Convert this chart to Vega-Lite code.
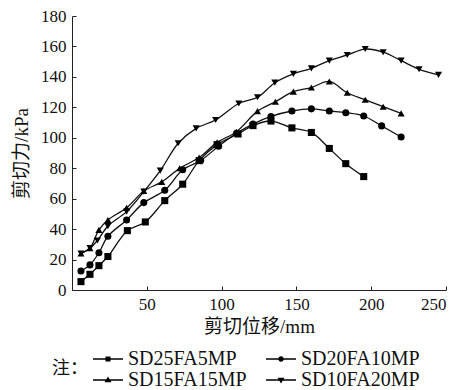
{
  "$schema": "https://vega.github.io/schema/vega-lite/v6.json",
  "autosize": {"type": "none"},
  "width": 374,
  "height": 274,
  "padding": {"left": 72, "top": 16, "right": 14, "bottom": 100},
  "background": "white",
  "config": {
    "view": {"stroke": null},
    "font": "Liberation Serif",
    "style": {
      "guide-label": {"font": "Liberation Serif"},
      "guide-title": {"font": "Liberation Serif, Noto Sans CJK SC"}
    },
    "axis": {
      "grid": false,
      "domainColor": "#222",
      "tickColor": "#222",
      "tickSize": -4,
      "labelColor": "#111",
      "titleColor": "#111"
    }
  },
  "data": {
    "values": [
      {"series": "SD25FA5MP", "x": 6, "y": 5.5},
      {"series": "SD25FA5MP", "x": 12, "y": 10.3},
      {"series": "SD25FA5MP", "x": 18, "y": 16},
      {"series": "SD25FA5MP", "x": 24, "y": 22},
      {"series": "SD25FA5MP", "x": 37, "y": 39},
      {"series": "SD25FA5MP", "x": 49, "y": 44.7},
      {"series": "SD25FA5MP", "x": 62, "y": 58.7},
      {"series": "SD25FA5MP", "x": 74, "y": 69.5},
      {"series": "SD25FA5MP", "x": 85, "y": 85},
      {"series": "SD25FA5MP", "x": 97, "y": 95.5},
      {"series": "SD25FA5MP", "x": 111, "y": 102.5},
      {"series": "SD25FA5MP", "x": 121, "y": 108},
      {"series": "SD25FA5MP", "x": 133, "y": 111},
      {"series": "SD25FA5MP", "x": 147, "y": 106.5},
      {"series": "SD25FA5MP", "x": 160, "y": 103.5},
      {"series": "SD25FA5MP", "x": 172, "y": 93},
      {"series": "SD25FA5MP", "x": 183, "y": 83},
      {"series": "SD25FA5MP", "x": 195, "y": 74.5},
      {"series": "SD20FA10MP", "x": 6, "y": 12.5},
      {"series": "SD20FA10MP", "x": 12, "y": 16.5},
      {"series": "SD20FA10MP", "x": 18, "y": 24.5},
      {"series": "SD20FA10MP", "x": 24, "y": 35.3},
      {"series": "SD20FA10MP", "x": 36.5, "y": 46},
      {"series": "SD20FA10MP", "x": 48, "y": 57.4},
      {"series": "SD20FA10MP", "x": 62, "y": 65.5},
      {"series": "SD20FA10MP", "x": 74, "y": 79},
      {"series": "SD20FA10MP", "x": 86, "y": 85},
      {"series": "SD20FA10MP", "x": 98, "y": 94.5},
      {"series": "SD20FA10MP", "x": 110, "y": 103},
      {"series": "SD20FA10MP", "x": 121, "y": 109},
      {"series": "SD20FA10MP", "x": 133, "y": 114},
      {"series": "SD20FA10MP", "x": 147, "y": 117.6},
      {"series": "SD20FA10MP", "x": 160, "y": 119},
      {"series": "SD20FA10MP", "x": 172, "y": 117.6},
      {"series": "SD20FA10MP", "x": 183, "y": 116.5},
      {"series": "SD20FA10MP", "x": 195, "y": 114.3},
      {"series": "SD20FA10MP", "x": 207, "y": 107.8},
      {"series": "SD20FA10MP", "x": 220, "y": 100.5},
      {"series": "SD15FA15MP", "x": 6, "y": 24},
      {"series": "SD15FA15MP", "x": 12, "y": 27.5},
      {"series": "SD15FA15MP", "x": 18, "y": 39.5},
      {"series": "SD15FA15MP", "x": 24, "y": 46},
      {"series": "SD15FA15MP", "x": 36.5, "y": 54},
      {"series": "SD15FA15MP", "x": 48, "y": 65},
      {"series": "SD15FA15MP", "x": 60, "y": 71},
      {"series": "SD15FA15MP", "x": 72, "y": 80},
      {"series": "SD15FA15MP", "x": 85, "y": 87},
      {"series": "SD15FA15MP", "x": 97, "y": 97},
      {"series": "SD15FA15MP", "x": 110, "y": 104},
      {"series": "SD15FA15MP", "x": 124, "y": 117.5},
      {"series": "SD15FA15MP", "x": 136, "y": 123.7},
      {"series": "SD15FA15MP", "x": 148, "y": 130.3},
      {"series": "SD15FA15MP", "x": 160, "y": 133},
      {"series": "SD15FA15MP", "x": 172, "y": 137},
      {"series": "SD15FA15MP", "x": 184, "y": 129.6},
      {"series": "SD15FA15MP", "x": 196, "y": 125},
      {"series": "SD15FA15MP", "x": 208, "y": 120.4},
      {"series": "SD15FA15MP", "x": 220, "y": 116},
      {"series": "SD10FA20MP", "x": 6, "y": 24},
      {"series": "SD10FA20MP", "x": 12, "y": 27.5},
      {"series": "SD10FA20MP", "x": 17, "y": 32.5},
      {"series": "SD10FA20MP", "x": 24, "y": 42},
      {"series": "SD10FA20MP", "x": 36.5, "y": 51.5},
      {"series": "SD10FA20MP", "x": 48, "y": 64.6},
      {"series": "SD10FA20MP", "x": 59, "y": 78.4},
      {"series": "SD10FA20MP", "x": 71, "y": 96.4},
      {"series": "SD10FA20MP", "x": 83, "y": 106.2},
      {"series": "SD10FA20MP", "x": 96, "y": 111.7},
      {"series": "SD10FA20MP", "x": 111.5, "y": 122.5},
      {"series": "SD10FA20MP", "x": 124, "y": 126.6},
      {"series": "SD10FA20MP", "x": 135.6, "y": 136.2},
      {"series": "SD10FA20MP", "x": 148, "y": 142},
      {"series": "SD10FA20MP", "x": 160, "y": 145.6},
      {"series": "SD10FA20MP", "x": 172, "y": 150.7},
      {"series": "SD10FA20MP", "x": 184, "y": 154.4},
      {"series": "SD10FA20MP", "x": 196, "y": 158.3},
      {"series": "SD10FA20MP", "x": 208, "y": 156.2},
      {"series": "SD10FA20MP", "x": 220, "y": 150.7},
      {"series": "SD10FA20MP", "x": 232, "y": 145},
      {"series": "SD10FA20MP", "x": 245, "y": 141.3}
    ]
  },
  "encoding": {
    "x": {
      "field": "x", "type": "quantitative",
      "scale": {"domain": [0, 250], "nice": false, "zero": true},
      "axis": {
        "values": [0, 50, 100, 150, 200, 250],
        "labelExpr": "datum.value == 0 ? '' : datum.label",
        "labelFont": "Liberation Serif",
        "labelFontSize": 17,
        "labelPadding": 10,
        "title": "剪切位移/mm",
        "titleFont": "Liberation Serif, Noto Sans CJK SC",
        "titleFontSize": 19,
        "titleFontWeight": "normal",
        "titlePadding": 5
      }
    },
    "y": {
      "field": "y", "type": "quantitative",
      "scale": {"domain": [0, 180], "nice": false},
      "axis": {
        "values": [0, 20, 40, 60, 80, 100, 120, 140, 160, 180],
        "labelFont": "Liberation Serif",
        "labelFontSize": 17,
        "labelPadding": 10,
        "title": "剪切力/kPa",
        "titleFont": "Liberation Serif, Noto Sans CJK SC",
        "titleFontSize": 19,
        "titleFontWeight": "normal",
        "titlePadding": 9
      }
    }
  },
  "resolve": {"scale": {"shape": "independent"}, "legend": {"shape": "independent"}},
  "layer": [
    {
      "mark": {"type": "line", "interpolate": "catmull-rom", "color": "#111", "strokeWidth": 1.3},
      "encoding": {"detail": {"field": "series"}}
    },
    {
      "mark": {"type": "point", "filled": true, "color": "#000", "opacity": 1, "size": 50},
      "encoding": {
        "shape": {
          "field": "series", "type": "nominal",
          "scale": {
            "domain": ["SD25FA5MP", "SD20FA10MP", "SD15FA15MP", "SD10FA20MP"],
            "range": ["square", "circle", "triangle-up", "triangle-down"]
          },
          "legend": null
        }
      }
    },
    {
      "transform": [{"filter": "datum.x < 0"}],
      "mark": {"type": "point", "filled": true, "color": "#000", "opacity": 1},
      "encoding": {
        "shape": {
          "field": "series", "type": "nominal",
          "scale": {
            "domain": ["SD25FA5MP", "SD20FA10MP", "SD15FA15MP", "SD10FA20MP"],
            "range": [
              "M-1.5,-0.07H1.5V0.07H-1.5ZM-0.25,-0.25H0.25V0.25H-0.25Z",
              "M-1.5,-0.07H1.5V0.07H-1.5ZM-0.28,0A0.28,0.28,0,1,1,0.28,0A0.28,0.28,0,1,1,-0.28,0Z",
              "M-1.5,-0.07H1.5V0.07H-1.5ZM0,-0.36L0.35,0.22L-0.35,0.22Z",
              "M-1.5,-0.07H1.5V0.07H-1.5ZM-0.35,-0.22L0.35,-0.22L0,0.36Z"
            ]
          },
          "legend": {
            "orient": "none",
            "direction": "horizontal",
            "legendX": -20,
            "legendY": 332,
            "title": "注：",
            "titleOrient": "left",
            "titleFont": "Noto Sans CJK SC",
            "titleFontSize": 18,
            "titleFontWeight": "normal",
            "titleColor": "#111",
            "titlePadding": 9,
            "columns": 2,
            "columnPadding": 16,
            "rowPadding": 0,
            "symbolSize": 400,
            "labelFont": "Liberation Serif",
            "labelFontSize": 20,
            "labelColor": "#111",
            "labelOffset": 9,
            "encode": {
              "symbols": {
                "update": {
                  "fill": {"value": "#000"},
                  "opacity": {"value": 1}
                }
              }
            }
          }
        }
      }
    }
  ]
}
